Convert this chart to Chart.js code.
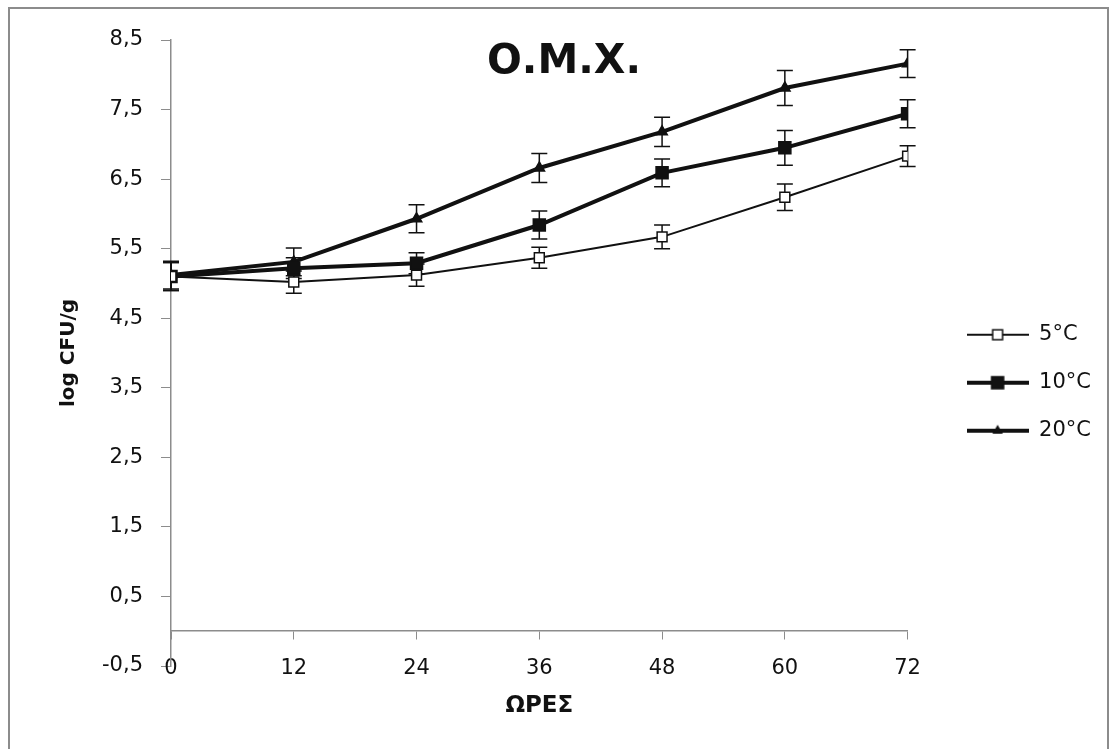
<!DOCTYPE html>
<html><head><meta charset="utf-8">
<script src="https://cdn.jsdelivr.net/npm/chart.js@4.4.1/dist/chart.umd.min.js"></script>
<style>html,body{margin:0;padding:0;background:#fff}</style>
</head><body>
<canvas id="c" width="1115" height="749"></canvas>
<script>
// ---- data ----
const hours = [0, 12, 24, 36, 48, 60, 72];
const xTicks = [0, 12, 24, 36, 48, 60, 72];
const yTicks = [-0.5, 0.5, 1.5, 2.5, 3.5, 4.5, 5.5, 6.5, 7.5, 8.5];
const seriesNames = ['5°C', '10°C', '20°C'];
const values5  = [5.10, 5.02, 5.12, 5.37, 5.67, 6.24, 6.83];
const values10 = [5.10, 5.22, 5.29, 5.84, 6.59, 6.95, 7.44];
const values20 = [5.12, 5.31, 5.93, 6.66, 7.18, 7.81, 8.16];
const err5  = [0.20, 0.16, 0.16, 0.15, 0.17, 0.19, 0.15];
const err10 = [0.20, 0.15, 0.15, 0.20, 0.20, 0.25, 0.20];
const err20 = [0.20, 0.20, 0.20, 0.21, 0.21, 0.25, 0.20];
const chartTitle = 'Ο.Μ.Χ.';
const xTitle = 'ΩΡΕΣ';
const yTitle = 'log CFU/g';

const TICK_FONT = {family: 'DejaVu Sans', size: 21};
const INK = '#111';

function legendImage(lineW, style, r, fill) {
  const cv = document.createElement('canvas');
  cv.width = 62; cv.height = 20;
  const g = cv.getContext('2d');
  g.strokeStyle = INK; g.lineWidth = lineW;
  g.beginPath(); g.moveTo(0, 10); g.lineTo(62, 10); g.stroke();
  g.lineWidth = 1.5;
  if (style === 'rect') {
    const s = r * Math.SQRT1_2;
    g.fillStyle = fill; g.fillRect(31 - s, 10 - s, 2 * s, 2 * s);
    g.strokeRect(31 - s, 10 - s, 2 * s, 2 * s);
  } else {
    g.fillStyle = fill;
    g.beginPath(); g.moveTo(31, 10 - r); g.lineTo(31 + r * 0.866, 10 + r * 0.5); g.lineTo(31 - r * 0.866, 10 + r * 0.5); g.closePath(); g.fill();
  }
  return cv;
}

const mk = (label, vals, errs, lw, style, r, fill) => ({
  label,
  data: hours.map((h, i) => ({x: h, y: vals[i]})),
  errors: errs,
  borderColor: INK, borderWidth: lw,
  pointStyle: style, pointRadius: r, pointHoverRadius: r,
  pointBackgroundColor: fill, pointBorderColor: INK, pointBorderWidth: 1.5,
  tension: 0,
  legendImg: legendImage(lw, style, r, fill)
});

const datasets = [
  mk(seriesNames[0], values5, err5, 2, 'rect', 7, '#fff'),
  mk(seriesNames[1], values10, err10, 4, 'rect', 8.5, INK),
  mk(seriesNames[2], values20, err20, 4, 'triangle', 6, INK)
];

const bgPlugin = {
  id: 'bg',
  beforeDraw(chart) {
    const c = chart.ctx;
    c.save();
    c.fillStyle = '#fff'; c.fillRect(0, 0, chart.width, chart.height);
    c.strokeStyle = '#8c8c8c'; c.lineWidth = 2;
    c.strokeRect(9, 8, 1099, 760);
    c.restore();
  },
  afterDraw(chart) {
    const c = chart.ctx;
    c.save();
    c.fillStyle = INK;
    c.font = 'bold 41px "DejaVu Sans"';
    c.textAlign = 'center'; c.textBaseline = 'middle';
    c.fillText(chartTitle, 564, 62);
    c.restore();
  }
};

const errPlugin = {
  id: 'errbars',
  beforeDatasetsDraw(chart) {
    const c = chart.ctx, ys = chart.scales.y, xs = chart.scales.x;
    c.save();
    c.strokeStyle = INK; c.lineWidth = 1.5;
    chart.data.datasets.forEach(ds => {
      ds.data.forEach((p, i) => {
        const e = ds.errors[i];
        const px = xs.getPixelForValue(p.x);
        const y1 = ys.getPixelForValue(p.y - e), y2 = ys.getPixelForValue(p.y + e);
        c.beginPath();
        c.moveTo(px, y1); c.lineTo(px, y2);
        c.moveTo(px - 8, y1); c.lineTo(px + 8, y1);
        c.moveTo(px - 8, y2); c.lineTo(px + 8, y2);
        c.stroke();
      });
    });
    c.restore();
  }
};

new Chart(document.getElementById('c'), {
  type: 'line',
  data: {datasets},
  plugins: [bgPlugin, errPlugin],
  options: {
    responsive: false,
    animation: false,
    devicePixelRatio: 1,
    layout: {padding: {left: 20, top: 40, bottom: 83, right: 14}},
    plugins: {
      tooltip: {enabled: false},
      legend: {
        position: 'right',
        title: {display: true, text: '', padding: {top: 45, bottom: 0}},
        labels: {
          usePointStyle: true, pointStyleWidth: 62, boxHeight: 16,
          padding: 27, color: INK, font: TICK_FONT,
          generateLabels(chart) {
            const items = Chart.defaults.plugins.legend.labels.generateLabels(chart);
            items.forEach(it => { it.pointStyle = chart.data.datasets[it.datasetIndex].legendImg; });
            return items;
          }
        }
      }
    },
    scales: {
      x: {
        type: 'linear', min: 0, max: 72,
        position: {y: 0},
        afterBuildTicks: s => { s.ticks = xTicks.map(v => ({value: v})); },
        grid: {drawOnChartArea: false, drawTicks: true, tickLength: 8, color: '#8c8c8c'},
        border: {color: '#8c8c8c', width: 1.5},
        ticks: {font: TICK_FONT, color: INK, padding: 17, maxRotation: 0, callback: v => String(v)},
        title: {display: true, text: xTitle, color: INK, font: {family: 'DejaVu Sans', size: 23, weight: 'bold'}, padding: {top: -6, bottom: 0}}
      },
      y: {
        type: 'linear', min: -0.5, max: 8.5,
        position: 'left',
        afterBuildTicks: s => { s.ticks = yTicks.map(v => ({value: v})); },
        afterFit: s => { s.width = 151; },
        grid: {drawOnChartArea: false, drawTicks: true, tickLength: 10, color: '#8c8c8c'},
        border: {color: '#8c8c8c', width: 1.5},
        ticks: {font: TICK_FONT, color: INK, padding: 18, callback: v => v.toFixed(1).replace('.', ',')},
        title: {display: true, text: yTitle, color: INK, font: {family: 'DejaVu Sans', size: 20, weight: 'bold'}, padding: {top: 37, bottom: 0}}
      },
      yR: {
        type: 'linear', position: 'right', display: true,
        grid: {display: false}, border: {display: false}, ticks: {display: false},
        afterFit: s => { s.width = 32; }
      }
    }
  }
});
</script>
</body></html>
